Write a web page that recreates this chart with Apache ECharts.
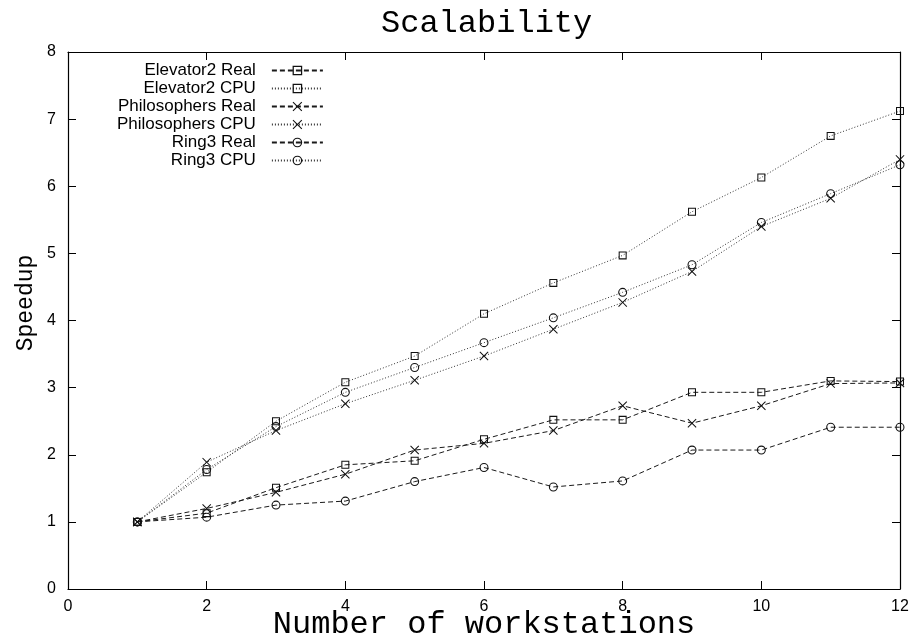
<!DOCTYPE html>
<html>
<head>
<meta charset="utf-8">
<script src="https://cdn.jsdelivr.net/npm/echarts@6/dist/echarts.min.js"></script>
<style>
  html, body { margin: 0; padding: 0; background: #fff; }
  #chart { width: 910px; height: 644px; }
</style>
</head>
<body>
<div id="chart"></div>
<script>
const workstations = [1, 2, 3, 4, 5, 6, 7, 8, 9, 10, 11, 12];
const elevator2Real = [1, 1.13, 1.51, 1.85, 1.91, 2.23, 2.52, 2.52, 2.93, 2.93, 3.10, 3.09];
const elevator2CPU = [1, 1.74, 2.50, 3.08, 3.47, 4.10, 4.56, 4.97, 5.62, 6.13, 6.75, 7.12];
const philosophersReal = [1, 1.20, 1.44, 1.71, 2.07, 2.17, 2.36, 2.73, 2.47, 2.73, 3.06, 3.07];
const philosophersCPU = [1, 1.89, 2.36, 2.76, 3.11, 3.47, 3.87, 4.27, 4.73, 5.40, 5.82, 6.40];
const ring3Real = [1, 1.07, 1.25, 1.31, 1.60, 1.81, 1.52, 1.61, 2.07, 2.07, 2.41, 2.41];
const ring3CPU = [1, 1.78, 2.42, 2.93, 3.30, 3.67, 4.04, 4.42, 4.83, 5.46, 5.89, 6.32];
const seriesNames = ['Elevator2 Real', 'Elevator2 CPU', 'Philosophers Real', 'Philosophers CPU', 'Ring3 Real', 'Ring3 CPU'];
const xTicks = [0, 2, 4, 6, 8, 10, 12];
const yTicks = [0, 1, 2, 3, 4, 5, 6, 7, 8];
const xAxisTitle = 'Number of workstations';
const yAxisTitle = 'Speedup';

const crossPath = 'path://M0,0.8 L0.8,0 L5,4.2 L9.2,0 L10,0.8 L5.8,5 L10,9.2 L9.2,10 L5,5.8 L0.8,10 L0,9.2 L4.2,5 Z';
const squarePath = 'path://M0,0 L10,0 L10,10 L0,10 Z M1.3,1.3 L1.3,8.7 L8.7,8.7 L8.7,1.3 Z';
const circlePath = 'path://M0,5 A5,5 0 1,1 10,5 A5,5 0 1,1 0,5 Z M1.2,5 A3.8,3.8 0 1,0 8.8,5 A3.8,3.8 0 1,0 1.2,5 Z';
const monoFont = '"Liberation Mono", "DejaVu Sans Mono", monospace';
const sansFont = '"Liberation Sans", Arial, sans-serif';

function pairs(vals) { return workstations.map((x, i) => [x, vals[i]]); }

function makeSeries(name, vals, dashed, symbol, size) {
  return {
    name: name,
    type: 'line',
    data: pairs(vals),
    symbol: symbol,
    symbolSize: size,
    showAllSymbol: true,
    lineStyle: { color: dashed ? '#1a1a1a' : '#333', width: 1, type: dashed ? [5, 3] : [1, 2] },
    itemStyle: { color: '#111', borderWidth: 0 },
    emphasis: { disabled: true },
    animation: false
  };
}

const chart = echarts.init(document.getElementById('chart'), null, { renderer: 'canvas' });

function axisBase() {
  return {
    type: 'value',
    axisLine: { show: true, onZero: false, lineStyle: { color: '#000', width: 1.2 } },
    axisTick: { show: true, inside: true, length: 8, lineStyle: { color: '#000', width: 1 } },
    splitLine: { show: false }
  };
}

chart.setOption({
  backgroundColor: '#fff',
  animation: false,
  title: {
    text: 'Scalability',
    left: 381,
    top: 8,
    padding: 0,
    textStyle: { fontFamily: monoFont, fontSize: 32, fontWeight: 'normal', color: '#000' }
  },
  grid: { left: 68, right: 10, top: 52, bottom: 55, containLabel: false, outerBoundsMode: 'none' },
  legend: {
    orient: 'vertical',
    left: 117,
    top: 62,
    align: 'right',
    itemWidth: 51,
    itemHeight: 12,
    itemGap: 1,
    padding: 0,
    data: seriesNames,
    formatter: function (name) { return '{a|' + name + '}'; },
    textStyle: {
      color: '#000',
      fontFamily: sansFont,
      fontSize: 17,
      rich: { a: { width: 160, align: 'right', padding: [0, 11, 0, 0], fontFamily: sansFont, fontSize: 17, color: '#000' } }
    }
  },
  xAxis: [
    Object.assign(axisBase(), {
      position: 'bottom', min: 0, max: 12, interval: 2,
      axisLabel: {
        margin: 10, color: '#000', fontFamily: sansFont, fontSize: 16,
        formatter: function (v) { return xTicks.indexOf(v) >= 0 ? String(v) : ''; }
      }
    }),
    Object.assign(axisBase(), {
      position: 'top', min: 0, max: 12, interval: 2,
      axisLabel: { show: false }
    })
  ],
  yAxis: [
    Object.assign(axisBase(), {
      position: 'left', min: 0, max: 8, interval: 1,
      axisLabel: {
        margin: 12, color: '#000', fontFamily: sansFont, fontSize: 16,
        formatter: function (v) { return yTicks.indexOf(v) >= 0 ? String(v) : ''; }
      }
    }),
    Object.assign(axisBase(), {
      position: 'right', min: 0, max: 8, interval: 1,
      axisLabel: { show: false }
    })
  ],
  graphic: [{
    type: 'text',
    x: 26,
    y: 303,
    rotation: Math.PI / 2,
    style: {
      text: yAxisTitle,
      font: '23px ' + monoFont,
      fill: '#000',
      textAlign: 'center',
      textVerticalAlign: 'middle'
    }
  }, {
    type: 'text',
    x: 484,
    y: 625,
    style: {
      text: xAxisTitle,
      font: '32px ' + monoFont,
      fill: '#000',
      textAlign: 'center',
      textVerticalAlign: 'middle'
    }
  }],
  series: [
    makeSeries(seriesNames[0], elevator2Real, true, squarePath, 8),
    makeSeries(seriesNames[1], elevator2CPU, false, squarePath, 8),
    makeSeries(seriesNames[2], philosophersReal, true, crossPath, 9),
    makeSeries(seriesNames[3], philosophersCPU, false, crossPath, 9),
    makeSeries(seriesNames[4], ring3Real, true, circlePath, 9),
    makeSeries(seriesNames[5], ring3CPU, false, circlePath, 9)
  ]
});
</script>
</body>
</html>
